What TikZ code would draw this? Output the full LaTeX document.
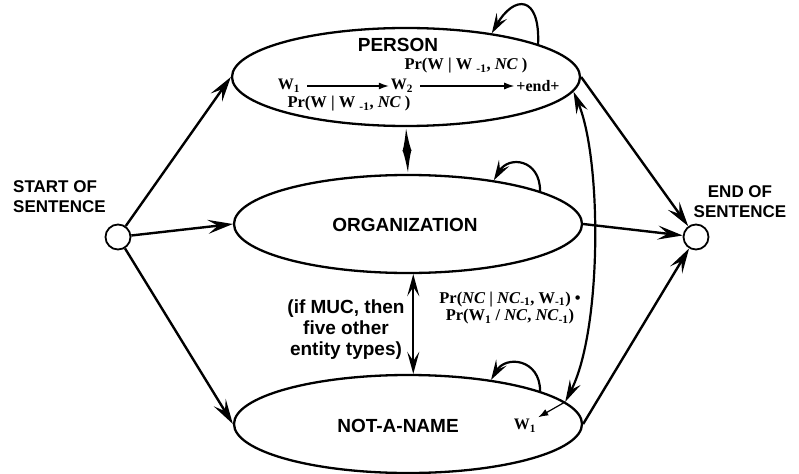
\documentclass[tikz,border=0pt]{standalone}
\usepackage{fontspec}
\setmainfont{Liberation Serif}
\setsansfont{Liberation Sans}
\usetikzlibrary{arrows.meta,shapes.geometric}

\tikzset{
  statebox/.style={ellipse, draw, line width=2.3pt, minimum width=348pt,
    minimum height=98pt, inner sep=0pt},
  endpoint/.style={circle, draw, line width=1.8pt, minimum size=25pt, inner sep=0pt},
  statelabel/.style={font=\sffamily\bfseries\fontsize{19}{21}\selectfont, align=center, inner sep=0pt},
  sidelabel/.style={font=\sffamily\bfseries\fontsize{17}{20}\selectfont, inner sep=0pt},
  problabel/.style={font=\bfseries\fontsize{16.5}{17.5}\selectfont, align=center, inner sep=0pt},
  wordlabel/.style={font=\bfseries\fontsize{16}{18}\selectfont, inner sep=2pt},
  headtip/.tip={Stealth[length=25pt,width=14pt,inset=10pt]},
  mainarrow/.style={line width=2.4pt, -headtip},
  looparrow/.style={line width=2.2pt, -{Stealth[length=20pt,width=12pt,inset=8pt]}},
  thinarrow/.style={line width=1.2pt, -{Latex[length=10pt,width=7pt]}},
}

\begin{document}
\begin{tikzpicture}[x=1pt,y=-1pt]
\useasboundingbox (0,0) rectangle (799,473);

% sentence boundaries
\node[endpoint] (start) at (118,237) {};
\node[endpoint] (stop) at (696,237) {};
\node[sidelabel, anchor=north west, align=left] (startlbl) at (13,180) {START OF\\SENTENCE};
\node[sidelabel, anchor=north, align=center] (stoplbl) at (740,185) {END OF\\SENTENCE};

% name-class states
\node[statebox] (per) at (406,77) {};
\node[statebox] (org) at (408,224) {};
\node[statebox] (nan) at (408,424) {};

\node[statelabel] (perlbl) at (398,45) {PERSON};
\node[statelabel] (orglbl) at (405,225) {ORGANIZATION};
\node[statelabel] (nanlbl) at (398,426) {NOT-A-NAME};

% word model inside PERSON
\node[wordlabel] (w1) at (289,86) {W\textsubscript{1}};
\node[wordlabel] (w2) at (402,86) {W\textsubscript{2}};
\node[wordlabel] (wend) at (538,86) {+end+};
\draw[thinarrow] (w1.east) ++(5,0) coordinate (w1a) (w1a) -- (w2.west);
\draw[thinarrow] (w2.east) ++(5,0) coordinate (w2a) (w2a) -- (wend.west);
\node[problabel] (pr1) at (349,104) {Pr(W | W \textsubscript{-1}, \textit{NC} )};
\node[problabel] (pr2) at (466,66) {Pr(W | W \textsubscript{-1}, \textit{NC} )};

% first word inside NOT-A-NAME
\node[wordlabel] (nw1) at (525,426) {W\textsubscript{1}};

% transitions from start and to end
\draw[mainarrow] (start) -- (per.west);
\draw[mainarrow] (start) -- (org.west);
\draw[mainarrow] (start) -- (nan.west);
\draw[mainarrow] (per.east) -- (stop);
\draw[mainarrow] (org.east) -- (stop);
\draw[mainarrow] (nan.east) -- (stop);

% self transitions
\draw[looparrow] (per.14) .. controls +(2,-50) and +(22,-38) .. (per.27);
\draw[looparrow] (org.14) .. controls +(0,-32) and +(15,-25) .. (org.27);
\draw[looparrow] (nan.14) .. controls +(0,-32) and +(15,-25) .. (nan.28);

% transitions between classes
\draw[line width=2pt, {Latex[length=24pt,width=9pt]}-{Latex[length=24pt,width=9pt]}]
  (per.south) -- (org.north);
\draw[line width=2.4pt, {Stealth[length=22pt,width=12pt,inset=9pt]}-{Stealth[length=22pt,width=12pt,inset=9pt]}]
  (org.-84) -- (nan.84);
\draw[line width=2.2pt, {Stealth[length=22pt,width=12pt,inset=8pt]}-{Stealth[length=22pt,width=12pt,inset=8pt]}]
  (per.-5) .. controls (602,160) and (602,330) .. (nan.8);
\draw[thinarrow] (nan.8) -- (nw1.north east);

\node[statelabel] (muc) at (346,330) {(if MUC, then\\five other\\entity types)};
\node[problabel] (trans) at (510,308) {Pr(\textit{NC} | \textit{NC}\textsubscript{-1}, W\textsubscript{-1}) •\\Pr(W\textsubscript{1} / \textit{NC}, \textit{NC}\textsubscript{-1})};
\end{tikzpicture}
\end{document}
